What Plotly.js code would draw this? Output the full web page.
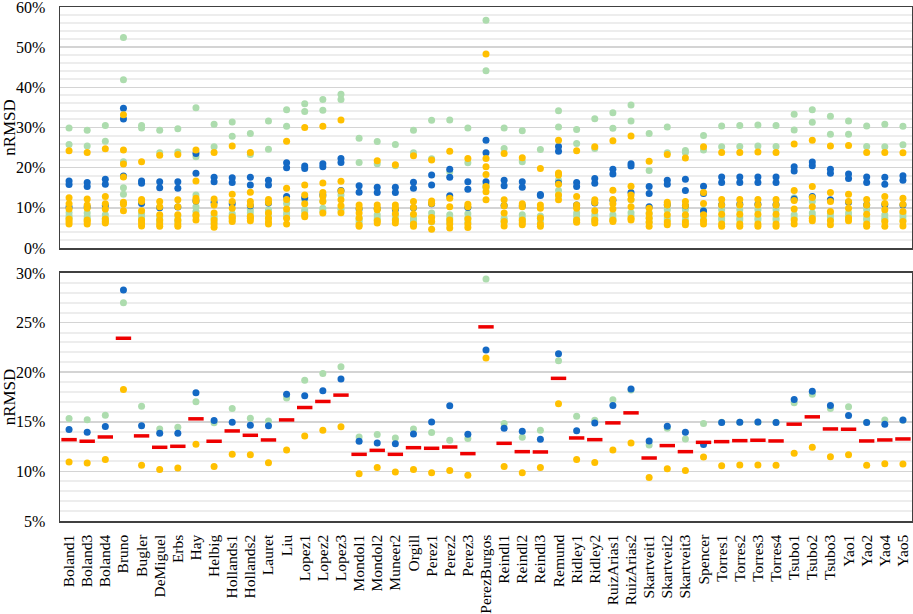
<!DOCTYPE html>
<html>
<head>
<meta charset="utf-8">
<script src="https://cdn.plot.ly/plotly-3.0.1.min.js"></script>
<style>html,body{margin:0;padding:0;background:#fff;}#chart{width:913px;height:614px;}</style>
</head>
<body>
<div id="chart"></div>
<script>
const categories = ["Boland1","Boland3","Boland4","Bruno","Bugler","DeMiguel","Erbs","Hay","Helbig","Hollands1","Hollands2","Lauret","Liu","Lopez1","Lopez2","Lopez3","Mondol1","Mondol2","Muneer2","Orgill","Perez1","Perez2","Perez3","PerezBurgos","Reindl1","Reindl2","Reindl3","Remund","Ridley1","Ridley2","RuizArias1","RuizArias2","Skartveit1","Skartveit2","Skartveit3","Spencer","Torres1","Torres2","Torres3","Torres4","Tsubo1","Tsubo2","Tsubo3","Yao1","Yao2","Yao4","Yao5"];

// Top panel: individual nRMSD values (%) per model
const topBlue = [
[16.7,15.8,10.2],[16.3,15.3,10.3],[17.1,15.9,10.6],[34.8,32.1,17.9],[16.7,16.1,11.1],[16.5,15.0,10.0],[16.5,14.9,10.2],[23.5,18.6,11.7],[17.6,16.5,11.4],[17.5,16.3,11.0],[17.6,15.7,10.5],[16.9,15.7,11.2],[21.2,20.0,12.8],[20.4,19.8,12.5],[21.0,20.2,13.2],[22.3,21.3,14.3],[15.5,13.9,9.7],[15.1,13.8,9.8],[15.1,13.8,9.6],[16.4,14.9,10.0],[18.2,15.7,11.0],[19.6,17.6,13.0],[16.5,14.6,10.1],[26.8,23.7,16.5],[16.9,15.5,10.6],[16.5,15.1,10.5],[13.3,13.1],[25.3,24.1,16.2],[16.3,15.3,10.7],[17.3,16.1,11.2],[19.6,18.4,11.9],[21.0,20.4,13.8],[15.3,13.6,10.3],[16.9,15.9,10.8],[17.1,14.3,10.5],[15.4,13.6,9.2],[17.7,16.3,10.8],[17.7,16.3,10.9],[17.7,16.3,10.9],[17.7,16.3,10.8],[20.2,19.2,12.2],[21.4,20.5,12.8],[19.6,18.6,12.0],[18.4,17.3,11.4],[17.7,16.3,10.8],[17.6,15.9,10.8],[18.0,16.9,10.7]
];
const topYellow = [
[24.2,12.5,11.0,9.7,7.2,6.6,6.0],[23.8,12.2,10.7,9.9,7.0,6.6,6.0],[24.7,12.8,11.0,9.7,7.2,6.6,6.2],[33.2,24.4,20.9,17.7,11.4,10.9,9.3],[21.5,12.1,11.6,9.3,7.0,6.2,5.5],[23.1,11.6,10.3,8.3,7.0,6.0,5.4],[23.3,12.0,10.3,8.3,7.0,6.0,5.4],[24.4,16.7,12.4,11.7,8.3,8.0,7.0],[23.8,12.2,10.7,8.7,7.0,6.0,5.2],[25.4,13.4,11.6,9.9,7.8,7.4,6.6],[23.8,13.9,11.6,10.7,7.9,7.4,6.8],[12.1,11.3,8.7,7.4,6.5,6.0],[26.6,14.9,12.1,9.7,7.4,6.0],[30.0,15.7,13.2,11.0,8.3,7.8],[30.3,16.2,13.8,12.8,11.6,8.7],[31.9,16.6,14.2,12.0,10.5,8.8],[10.7,9.9,8.7,7.5,5.8,5.4],[21.7,10.7,9.9,9.5,6.8,6.2],[20.7,10.7,9.9,8.5,7.0,6.2],[23.0,11.6,10.1,8.4,6.0,5.4],[21.9,11.7,11.1,7.6,6.6,4.7],[24.1,12.4,10.3,7.0,6.0,5.0],[22.3,10.9,10.3,7.2,6.0,5.1],[48.3,22.3,20.2,18.3,15.3,14.0,12.0],[23.5,12.0,10.5,8.7,6.6,5.5],[22.5,11.0,10.3,7.0,6.3,5.8],[19.8,10.7,9.9,7.5,6.0,5.4],[26.8,18.7,18.2,15.9,13.2,12.0],[24.2,12.8,10.7,9.9,7.0,6.4],[25.2,12.0,11.3,9.3,7.0,6.2],[26.7,14.4,12.1,11.0,9.7,7.0,6.6],[27.9,15.4,13.2,12.1,10.3,7.4,7.0],[21.6,9.9,8.5,7.4,6.4,5.4],[23.3,11.4,10.7,8.3,6.5,5.8],[22.4,11.6,10.5,8.3,6.5,5.8],[25.2,13.8,11.1,8.3,6.8,6.0],[23.8,12.1,10.7,8.4,6.0,5.4],[23.8,12.1,10.7,8.4,6.0,5.4],[23.9,12.1,10.7,8.4,6.0,5.4],[23.8,12.1,10.7,8.4,6.0,5.4],[25.9,14.3,11.8,9.7,7.0,6.0],[26.8,15.3,12.6,10.3,7.4,6.8],[25.4,13.8,11.6,9.1,6.8,5.8],[25.5,13.4,11.6,9.9,7.5,6.8],[23.8,12.1,10.7,8.4,6.0,5.4],[23.8,12.8,11.1,9.5,6.6,5.4],[23.7,12.4,10.9,9.1,6.6,5.5]
];
const topGreen = [
[29.9,25.8,8.8,8.0,7.4],[29.3,25.4,8.7,7.8,7.2],[30.5,26.6,8.3,7.4,7.0],[52.4,41.9,21.5,15.0,13.4],[30.5,29.9,8.6,7.8,7.0],[29.3,23.7,7.8,7.0,6.5],[29.7,23.9,8.0,7.0,6.6],[34.9,22.7,13.2,10.3,9.1],[30.8,25.2,8.0,7.4,6.5],[31.4,27.8,8.5,8.0,7.0],[28.5,23.3,9.5,8.7,7.8],[31.6,24.6,9.5,8.5,7.5],[34.4,30.3,11.1,8.7,8.0],[35.9,34.0,12.0,9.5,9.0],[37.0,34.3,11.7,9.9,9.2],[38.3,37.0,13.2,9.9,9.5],[27.3,21.3,7.4,7.0,6.5],[26.5,21.0,8.3,7.5,7.0],[25.8,20.5,8.3,7.5,7.0],[29.3,23.7,7.5,7.0,6.5],[31.8,22.2,8.7,7.8,6.5],[31.9,19.0,8.3,7.5,6.5],[29.9,21.2,8.5,7.5,6.5],[56.7,44.1,15.9,15.2,15.0],[29.9,24.8,7.4,7.0,6.5],[29.2,21.5,8.3,7.5,6.8],[24.5,8.0,7.4,6.8],[34.2,30.1,16.9,14.3,13.0],[29.5,26.0,8.7,8.0,7.0],[32.2,24.8,8.3,7.5,6.8],[33.7,29.8,8.3,7.5,7.0],[35.6,31.6,12.0,8.8,8.0],[28.5,19.3,8.7,7.5,6.5],[30.1,23.7,9.5,7.5,7.0],[24.3,23.8,9.5,8.0,7.0],[28.0,24.4,9.5,8.0,7.0],[30.4,25.2,9.5,7.5,7.0],[30.5,25.3,9.5,7.5,7.0],[30.6,25.4,9.5,7.5,7.0],[30.5,25.3,9.5,7.5,7.0],[33.3,29.4,12.5,8.3,7.5],[34.4,31.3,11.6,8.7,8.0],[32.8,28.3,8.5,7.8,7.0],[31.6,28.3,8.7,8.0,7.5],[30.4,25.3,9.5,7.5,7.0],[30.8,25.2,8.3,7.5,7.0],[30.3,25.7,8.5,7.8,7.0]
];

// Bottom panel: group values (%) and overall mean (red dash)
const bottomBlue = [14.22,13.95,14.52,28.28,14.59,13.85,13.85,17.93,15.13,14.96,14.65,14.59,17.79,17.62,18.13,19.31,13.03,12.87,12.80,13.78,14.99,16.61,13.74,22.24,14.35,14.05,13.24,21.87,14.11,14.89,16.64,18.30,13.07,14.55,13.95,12.70,14.92,14.96,14.99,14.92,17.25,18.09,16.64,15.63,14.92,14.75,15.19];
const bottomGreen = [15.33,15.20,15.67,27.00,16.58,14.28,14.45,17.02,14.90,16.34,15.36,15.09,17.39,19.20,19.88,20.56,13.47,13.71,13.37,14.28,13.91,13.14,13.31,29.39,14.82,13.44,14.15,21.16,15.57,15.16,17.22,18.20,12.66,14.35,13.27,14.82,14.95,14.95,14.95,14.95,16.91,17.79,16.34,16.51,14.95,15.19,15.15];
const bottomYellow = [10.94,10.84,11.21,18.26,10.61,10.20,10.34,12.73,10.50,11.72,11.69,10.88,12.16,13.57,14.15,14.49,9.76,10.40,9.93,10.20,9.86,10.10,9.60,21.43,10.50,9.86,10.40,16.81,11.21,10.91,12.16,12.87,9.39,10.27,10.10,11.45,10.57,10.64,10.64,10.61,11.82,12.43,11.48,11.69,10.61,10.78,10.74];
const bottomMean = [13.20,13.04,13.47,23.42,13.58,12.43,12.53,15.30,13.04,14.08,13.64,13.17,15.19,16.44,17.05,17.69,11.72,12.12,11.72,12.39,12.33,12.46,11.79,24.57,12.83,11.99,11.96,19.38,13.37,13.20,14.89,15.90,11.35,12.60,11.99,12.93,13.00,13.10,13.14,13.07,14.76,15.50,14.28,14.25,13.07,13.17,13.27];

const BLUE = '#1469c4', YELLOW = '#ffc000', GREEN = '#addcae', RED = '#ee0000';

function flatten(groups){
  const xs = [], ys = [];
  groups.forEach((vals, i) => vals.forEach(v => { xs.push(categories[i]); ys.push(v); }));
  return {x: xs, y: ys};
}
const tg = flatten(topGreen), tb = flatten(topBlue), ty = flatten(topYellow);
const mk = (c) => ({color: c, size: 7, line: {width: 0}});

const traces = [
  {type:'scatter', mode:'markers', x: tg.x, y: tg.y, xaxis:'x2', yaxis:'y', marker: mk(GREEN)},
  {type:'scatter', mode:'markers', x: tb.x, y: tb.y, xaxis:'x2', yaxis:'y', marker: mk(BLUE)},
  {type:'scatter', mode:'markers', x: ty.x, y: ty.y, xaxis:'x2', yaxis:'y', marker: mk(YELLOW)},
  {type:'scatter', mode:'markers', x: categories, y: bottomGreen, xaxis:'x', yaxis:'y2', marker: mk(GREEN)},
  {type:'scatter', mode:'markers', x: categories, y: bottomBlue, xaxis:'x', yaxis:'y2', marker: mk(BLUE)},
  {type:'scatter', mode:'markers', x: categories, y: bottomYellow, xaxis:'x', yaxis:'y2', marker: mk(YELLOW)},
  {type:'scatter', mode:'markers', x: categories, y: bottomMean, xaxis:'x', yaxis:'y2',
   marker: {symbol:'line-ew', size: 11, color: RED, line: {color: RED, width: 3.5}}}
];

const FONT = '"Liberation Serif", "Times New Roman", serif';
const frame = {showline: true, linecolor: '#404040', linewidth: 1.5, mirror: true, zeroline: false};
const yCommon = {
  showgrid: true, gridcolor: '#d4d4d4', gridwidth: 1.5, ticksuffix: '%',
  ticks: 'outside', ticklen: 10, tickcolor: 'rgba(0,0,0,0)', automargin: false,
  ticklabeloverflow: 'allow',
  tickfont: {family: FONT, size: 16, color: '#000'},
  title: {text: 'nRMSD', standoff: 5, font: {family: FONT, size: 17, color: '#000'}}
};

const layout = {
  width: 913, height: 614,
  margin: {l: 60, r: 1, t: 7, b: 93},
  paper_bgcolor: '#fff', plot_bgcolor: '#fff',
  showlegend: false,
  font: {family: FONT, size: 16, color: '#000'},
  xaxis: Object.assign({}, frame, {
    domain: [0, 1], anchor: 'y2', type: 'category', categoryarray: categories, categoryorder: 'array',
    range: [-0.5, categories.length - 0.5], tickangle: -90, showgrid: false,
    tickmode: 'array', tickvals: categories, ticktext: categories,
    ticks: 'outside', ticklen: 6, tickcolor: 'rgba(0,0,0,0)', automargin: false,
    tickfont: {family: FONT, size: 15.5, color: '#000'}
  }),
  xaxis2: Object.assign({}, frame, {
    domain: [0, 1], anchor: 'y', type: 'category', categoryarray: categories, categoryorder: 'array',
    range: [-0.5, categories.length - 0.5], showticklabels: false, ticks: '', showgrid: false
  }),
  yaxis: Object.assign({}, frame, yCommon, {
    domain: [0.5311, 1], anchor: 'x2', range: [0, 60], dtick: 10,
    minor: {dtick: 2, showgrid: true, gridcolor: '#ededed', gridwidth: 2}
  }),
  yaxis2: Object.assign({}, frame, yCommon, {
    domain: [0, 0.4825], anchor: 'x', range: [5, 30], dtick: 5,
    minor: {dtick: 1, showgrid: true, gridcolor: '#ededed', gridwidth: 2}
  })
};

Plotly.newPlot('chart', traces, layout, {displayModeBar: false, staticPlot: true});
</script>
</body>
</html>
